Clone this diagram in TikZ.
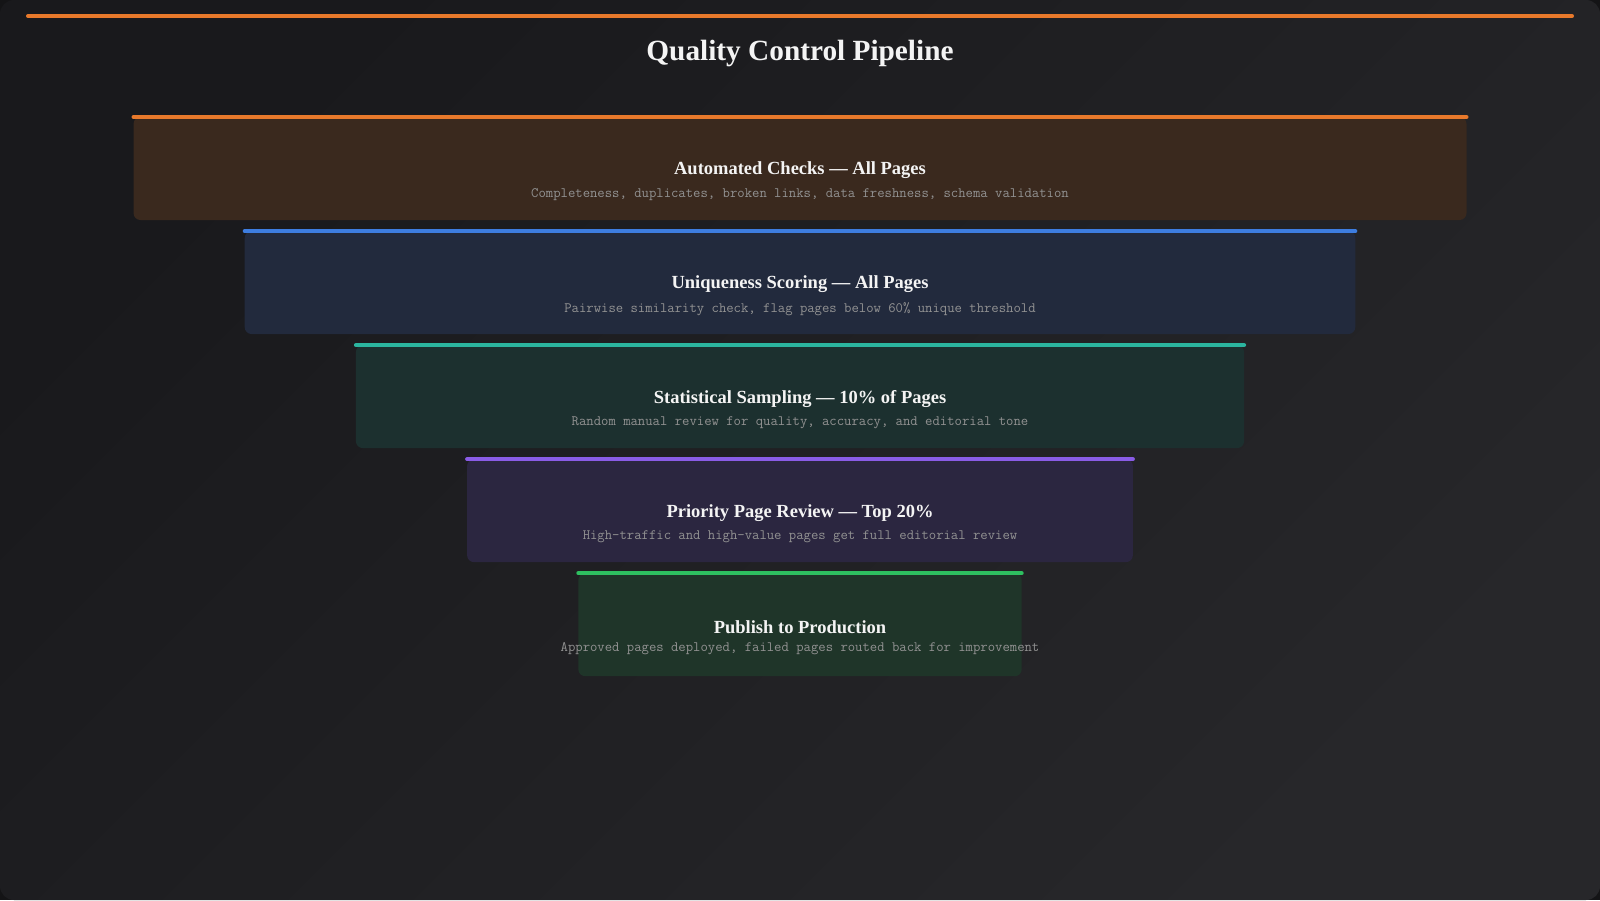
\documentclass[tikz,border=0pt]{standalone}
\usepackage{fontspec}
\setmainfont{Liberation Serif}
\usepackage{tikz}
\usetikzlibrary{positioning}

\definecolor{outside}{HTML}{141416}
\definecolor{bgdark}{HTML}{19191C}
\definecolor{bglight}{HTML}{27272A}
\definecolor{titlewhite}{HTML}{F4F4F4}
\definecolor{subgray}{HTML}{929292}
\definecolor{orangeline}{HTML}{E8792B}
\definecolor{autofill}{HTML}{3A291E}
\definecolor{blueline}{HTML}{3D7DE0}
\definecolor{uniqfill}{HTML}{222A3D}
\definecolor{tealline}{HTML}{2BB59F}
\definecolor{samplefill}{HTML}{1C302F}
\definecolor{purpleline}{HTML}{8A5CE6}
\definecolor{priofill}{HTML}{2B2640}
\definecolor{greenline}{HTML}{2EC060}
\definecolor{pubfill}{HTML}{1F3529}

\tikzset{
	layer/.style={rounded corners=7pt, minimum height=103pt, inner sep=0pt, outer sep=0pt},
	topbar/.style={line width=4pt, line cap=round},
	layertitle/.style={font=\bfseries\fontsize{18.5}{21}\selectfont, text=titlewhite, inner sep=0pt},
	layersub/.style={font=\ttfamily\fontsize{14.3}{16}\selectfont, text=subgray, inner sep=0pt}
}

\begin{document}
\begin{tikzpicture}[x=1pt, y=-1pt]

\useasboundingbox (0,0) rectangle (1600,900);

% Background
\fill[outside] (0,0) rectangle (1600,900);
\shade[rounded corners=14pt,
	left color=bgdark,
	right color=bglight,
	shading angle=45
] (0,0) rectangle (1600,900);

% Accent line and title
\draw[topbar, orangeline] (28,16) -- (1572,16);

\node[font=\bfseries\fontsize{29.3}{33}\selectfont,
	text=titlewhite,
	inner sep=0pt
] (title) at (800,53) {Quality Control Pipeline};

% Automated checks
\node[layer,
	fill=autofill,
	minimum width=1333pt
] (auto) at (800,168.5) {};

\draw[topbar, orangeline] (auto.north west) -- (auto.north east);

\node[layertitle] (autotitle) at ([yshift=-2pt]auto.center) {Automated Checks — All Pages};
\node[layersub, below=9pt of autotitle] (autosub)
	{Completeness, duplicates, broken links, data freshness, schema validation};

% Uniqueness scoring
\node[layer,
	fill=uniqfill,
	minimum width=1110.6pt,
	below=11.05pt of auto
] (uniq) {};

\draw[topbar, blueline] (uniq.north west) -- (uniq.north east);

\node[layertitle] (uniqtitle) at ([yshift=-2pt]uniq.center) {Uniqueness Scoring — All Pages};
\node[layersub, below=9pt of uniqtitle] (uniqsub)
	{Pairwise similarity check, flag pages below 60\% unique threshold};

% Statistical sampling
\node[layer,
	fill=samplefill,
	minimum width=888.2pt,
	below=11.05pt of uniq
] (sample) {};

\draw[topbar, tealline] (sample.north west) -- (sample.north east);

\node[layertitle] (sampletitle) at ([yshift=-2pt]sample.center) {Statistical Sampling — 10\% of Pages};
\node[layersub, below=9pt of sampletitle] (samplesub)
	{Random manual review for quality, accuracy, and editorial tone};

% Priority page review
\node[layer,
	fill=priofill,
	minimum width=665.8pt,
	below=11.05pt of sample
] (prio) {};

\draw[topbar, purpleline] (prio.north west) -- (prio.north east);

\node[layertitle] (priotitle) at ([yshift=-2pt]prio.center) {Priority Page Review — Top 20\%};
\node[layersub, below=9pt of priotitle] (priosub)
	{High-traffic and high-value pages get full editorial review};

% Publish
\node[layer,
	fill=pubfill,
	minimum width=443.4pt,
	below=11.05pt of prio
] (pub) {};

\draw[topbar, greenline] (pub.north west) -- (pub.north east);

\node[layertitle] (pubtitle) at ([yshift=-2pt]pub.center) {Publish to Production};
\node[layersub, below=9pt of pubtitle] (pubsub)
	{Approved pages deployed, failed pages routed back for improvement};

\end{tikzpicture}
\end{document}
